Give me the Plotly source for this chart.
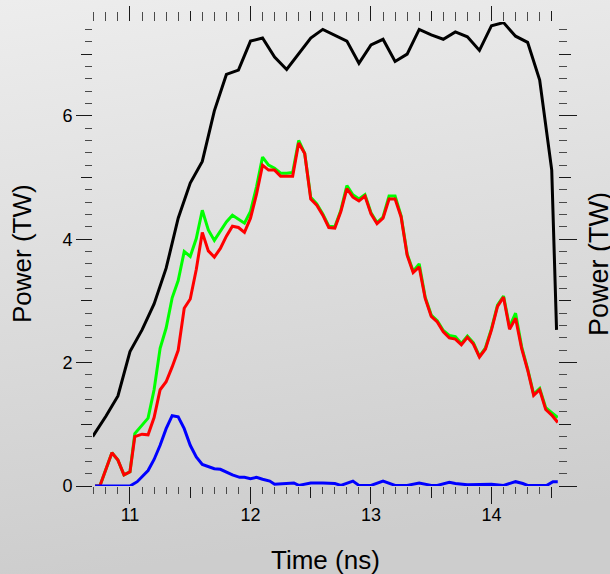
import plotly.graph_objects as go
import numpy as np
import urllib.parse

# ---------------- data ----------------
black_t = [10.69, 10.8, 10.9, 11.0, 11.1, 11.2, 11.3, 11.4, 11.5, 11.6, 11.7, 11.8, 11.9,
           12.0, 12.1, 12.2, 12.3, 12.4, 12.5, 12.6, 12.7, 12.8, 12.9, 13.0, 13.1, 13.2,
           13.3, 13.4, 13.5, 13.6, 13.7, 13.8, 13.9, 14.0, 14.1, 14.2, 14.3, 14.4, 14.5, 14.54]
black_p = [0.80, 1.13, 1.46, 2.18, 2.53, 2.95, 3.53, 4.34, 4.91, 5.26, 6.08, 6.67, 6.74,
           7.21, 7.26, 6.95, 6.75, 7.00, 7.26, 7.40, 7.31, 7.21, 6.85, 7.15, 7.24, 6.88,
           7.00, 7.40, 7.31, 7.24, 7.36, 7.28, 7.06, 7.46, 7.51, 7.29, 7.19, 6.58, 5.12, 2.53]

rg_t = [10.71, 10.75, 10.85, 10.90, 10.95, 11.0, 11.04, 11.10, 11.15, 11.20, 11.25, 11.30,
        11.35, 11.40, 11.45, 11.50, 11.55, 11.60, 11.65, 11.70, 11.75, 11.80, 11.85, 11.90,
        11.95, 12.0, 12.05, 12.10, 12.15, 12.20, 12.25, 12.30, 12.35, 12.40, 12.45, 12.50,
        12.55, 12.60, 12.65, 12.70, 12.75, 12.80, 12.85, 12.90, 12.95, 13.0, 13.05, 13.10,
        13.15, 13.20, 13.25, 13.30, 13.35, 13.40, 13.45, 13.50, 13.55, 13.60, 13.65, 13.70,
        13.75, 13.80, 13.85, 13.90, 13.95, 14.0, 14.05, 14.10, 14.15, 14.20, 14.25, 14.30,
        14.35, 14.40, 14.45, 14.50, 14.55]
green_p = [0, 0, 0.54, 0.42, 0.18, 0.23, 0.85, 0.99, 1.10, 1.56, 2.23, 2.56,
           3.05, 3.33, 3.80, 3.72, 4.01, 4.47, 4.15, 3.98, 4.12, 4.28, 4.39, 4.32,
           4.26, 4.45, 4.85, 5.33, 5.20, 5.15, 5.07, 5.07, 5.08, 5.60, 5.39, 4.68,
           4.57, 4.41, 4.21, 4.20, 4.47, 4.87, 4.72, 4.65, 4.72, 4.43, 4.27, 4.36,
           4.70, 4.70, 4.38, 3.76, 3.48, 3.60, 3.06, 2.77, 2.68, 2.52, 2.44, 2.42,
           2.31, 2.43, 2.32, 2.10, 2.24, 2.55, 2.93, 3.08, 2.58, 2.80, 2.26, 1.90,
           1.49, 1.58, 1.27, 1.19, 1.11]
red_p = [0, 0, 0.54, 0.42, 0.18, 0.23, 0.80, 0.84, 0.83, 1.11, 1.56, 1.69,
         1.93, 2.20, 2.88, 3.03, 3.51, 4.11, 3.81, 3.71, 3.85, 4.05, 4.21, 4.19,
         4.11, 4.34, 4.73, 5.20, 5.12, 5.12, 5.02, 5.02, 5.02, 5.56, 5.39, 4.65,
         4.55, 4.39, 4.19, 4.18, 4.45, 4.82, 4.68, 4.62, 4.70, 4.41, 4.25, 4.34,
         4.65, 4.65, 4.36, 3.74, 3.46, 3.55, 3.04, 2.75, 2.66, 2.50, 2.40, 2.38,
         2.29, 2.41, 2.30, 2.09, 2.22, 2.53, 2.91, 3.06, 2.54, 2.72, 2.23, 1.88,
         1.47, 1.56, 1.24, 1.15, 1.03]

blue_t = [10.71, 11.0, 11.06, 11.15, 11.20, 11.25, 11.30, 11.35, 11.40, 11.45, 11.50, 11.55,
          11.60, 11.65, 11.70, 11.75, 11.80, 11.85, 11.91, 11.95, 12.0, 12.05, 12.10, 12.16,
          12.20, 12.30, 12.36, 12.40, 12.50, 12.60, 12.70, 12.75, 12.85, 12.90, 13.0, 13.10,
          13.20, 13.30, 13.40, 13.50, 13.55, 13.65, 13.70, 13.80, 13.90, 14.0, 14.10, 14.20,
          14.26, 14.30, 14.46, 14.51, 14.55]
blue_p = [0, 0, 0.07, 0.25, 0.43, 0.66, 0.93, 1.14, 1.12, 0.93, 0.66, 0.47,
          0.35, 0.32, 0.28, 0.27, 0.22, 0.18, 0.14, 0.14, 0.12, 0.14, 0.11, 0.08,
          0.03, 0.04, 0.05, 0.01, 0.05, 0.05, 0.04, 0.01, 0.08, 0.01, 0.01, 0.08,
          0.01, 0.01, 0.05, 0.01, 0.01, 0.06, 0.04, 0.02, 0.03, 0.03, 0.01, 0.07,
          0.04, 0.01, 0.01, 0.07, 0.07]

x_major = [11, 12, 13, 14]
x_mid = [11.5, 12.5, 13.5, 14.5]
y_major = [0, 2, 4, 6]
y_mid = [1, 3, 5, 7]
x_range = [10.693, 14.552]
y_range = [0, 7.52]

x_minor = [round(v, 1) for v in np.arange(10.7, 14.55, 0.1)
           if abs(v * 2 - round(v * 2)) > 1e-6]
y_minor = [round(v, 1) for v in np.arange(0.2, 7.5, 0.2)
           if abs(v - round(v)) > 1e-6]

FONT = "Liberation Sans, Arial, Helvetica, sans-serif"
TC = "#1a1a1a"
MC = "#4a4a4a"

fig = go.Figure()
fig.add_trace(go.Scatter(x=black_t, y=black_p, mode="lines", line=dict(color="#000000", width=3)))
fig.add_trace(go.Scatter(x=rg_t, y=green_p, mode="lines", line=dict(color="#00ff00", width=3)))
fig.add_trace(go.Scatter(x=rg_t, y=red_p, mode="lines", line=dict(color="#ff0000", width=3)))
fig.add_trace(go.Scatter(x=blue_t, y=blue_p, mode="lines", line=dict(color="#0000ff", width=3)))
# empty traces so that the overlay (tick-only) axes get drawn
for k in ("2", "3", "4"):
    fig.add_trace(go.Scatter(x=[None], y=[None], mode="lines", xaxis="x" + k, yaxis="y" + k,
                             hoverinfo="skip", showlegend=False))

common = dict(showgrid=False, zeroline=False, showline=False, ticks="outside", tickcolor=TC,
              tickwidth=1, automargin=False)

svg = ("<svg xmlns='http://www.w3.org/2000/svg' width='610' height='574'>"
       "<defs><linearGradient id='g' x1='0' y1='0' x2='0.15' y2='1'>"
       "<stop offset='0' stop-color='#ededed'/><stop offset='1' stop-color='#cdcdcd'/>"
       "</linearGradient></defs><rect width='610' height='574' fill='url(#g)'/></svg>")
src = "data:image/svg+xml;charset=utf-8," + urllib.parse.quote(svg)

L, R, T, B = 93, 52, 22, 88
PW, PH = 610 - L - R, 574 - T - B

fig.update_layout(
    width=610, height=574,
    margin=dict(l=L, r=R, t=T, b=B, pad=0, autoexpand=False),
    paper_bgcolor="#dddddd", plot_bgcolor="rgba(0,0,0,0)",
    showlegend=False,
    font=dict(family=FONT, size=18, color="#000000"),
    images=[dict(source=src, xref="paper", yref="paper", x=-L / PW, y=1 + T / PH,
                 sizex=610 / PW, sizey=574 / PH, sizing="stretch", xanchor="left",
                 yanchor="top", layer="below")],
    xaxis=dict(range=x_range, tickmode="array", tickvals=x_major, ticklen=17,
               tickfont=dict(size=18), ticklabelstandoff=-5,
               minor=dict(tickmode="array", tickvals=x_minor, ticklen=7, ticks="outside",
                          tickcolor=MC, tickwidth=1.3), **common),
    xaxis2=dict(range=x_range, overlaying="x", side="top", tickmode="array", tickvals=x_major,
                ticklen=15, showticklabels=False,
                minor=dict(tickmode="array", tickvals=x_minor, ticklen=9, ticks="outside",
                           tickcolor=MC, tickwidth=1.3), **common),
    xaxis3=dict(range=x_range, overlaying="x", side="bottom", tickmode="array", tickvals=x_mid,
                ticklen=11, showticklabels=False, **common),
    xaxis4=dict(range=x_range, overlaying="x", side="top", tickmode="array", tickvals=x_mid,
                ticklen=10, showticklabels=False, **common),
    yaxis=dict(range=y_range, tickmode="array", tickvals=y_major, ticklen=16,
               tickfont=dict(size=18),
               minor=dict(tickmode="array", tickvals=y_minor, ticklen=7, ticks="outside",
                          tickcolor=MC, tickwidth=1.3), **common),
    yaxis2=dict(range=y_range, overlaying="y", side="right", tickmode="array", tickvals=y_major,
                ticklen=18, showticklabels=False,
                minor=dict(tickmode="array", tickvals=y_minor, ticklen=8, ticks="outside",
                           tickcolor=MC, tickwidth=1.3), **common),
    yaxis3=dict(range=y_range, overlaying="y", side="left", tickmode="array", tickvals=y_mid,
                ticklen=11, showticklabels=False, **common),
    yaxis4=dict(range=y_range, overlaying="y", side="right", tickmode="array", tickvals=y_mid,
                ticklen=12, showticklabels=False, **common),
    annotations=[
        dict(text="Time (ns)", xref="paper", yref="paper", x=0.5, y=(486 - 560) / PH,
             xanchor="center", yanchor="middle", showarrow=False, font=dict(size=26)),
        dict(text="Power (TW)", xref="paper", yref="paper", x=(22 - L) / PW, y=(486 - 254) / PH,
             xanchor="center", yanchor="middle", textangle=-90, showarrow=False,
             font=dict(size=26)),
        dict(text="Power (TW)", xref="paper", yref="paper", x=(599 - L) / PW,
             y=(486 - 264) / PH, xanchor="center", yanchor="middle", textangle=-90,
             showarrow=False, font=dict(size=27)),
    ],
)

fig.write_html("out.html")
